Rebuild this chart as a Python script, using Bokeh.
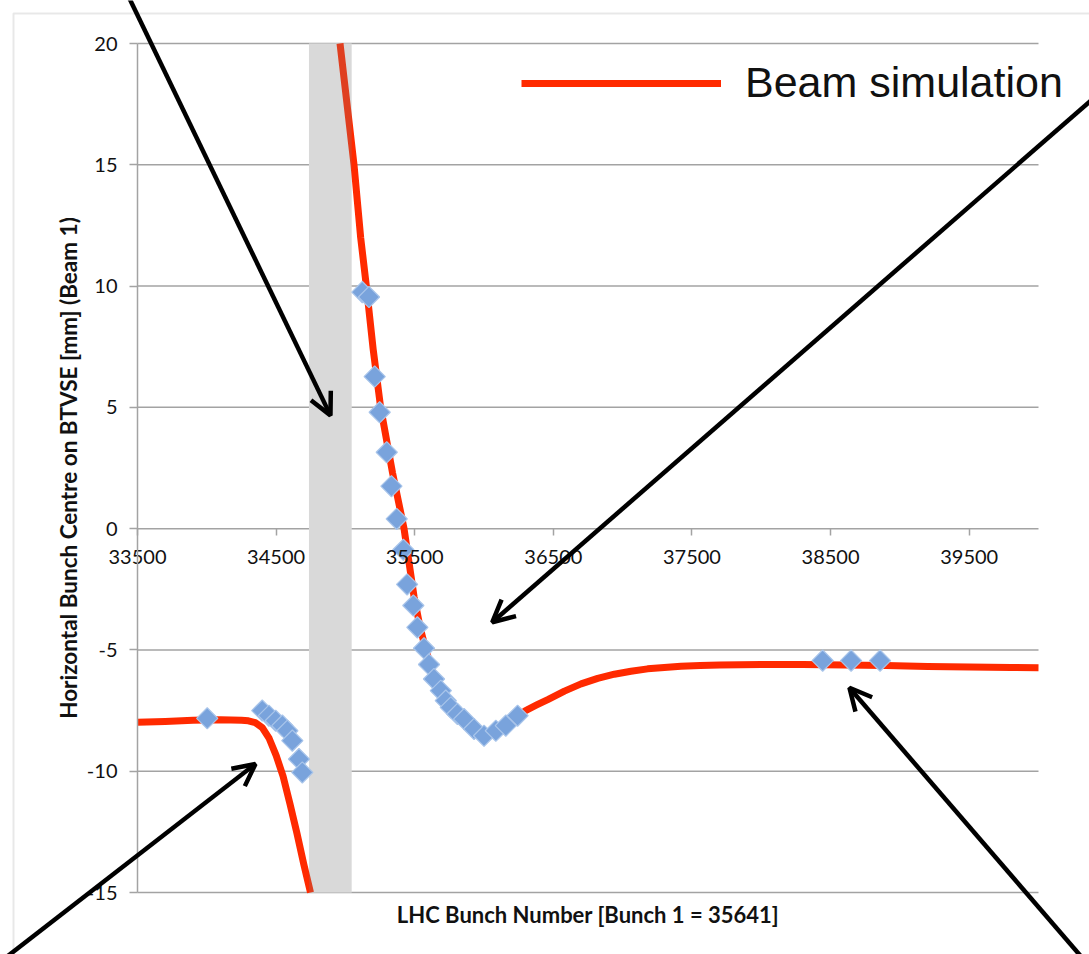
import numpy as np
from bokeh.plotting import figure
from bokeh.models import (Range1d, FixedTicker, LinearAxis, Arrow, OpenHead,
                          BoxAnnotation, Legend, LegendItem)
from bokeh.embed import file_html
from bokeh.resources import INLINE

# ---- data ----
# Beam simulation, branch before the abort gap
sim_left_x = [33500, 33700, 33900, 34100, 34250, 34300, 34350, 34400, 34450, 34500,
              34550, 34600, 34650, 34700, 34748]
sim_left_y = [-7.98, -7.95, -7.9, -7.88, -7.9, -7.92, -8.0, -8.2, -8.65, -9.35,
              -10.2, -11.35, -12.55, -13.85, -15.0]
# Beam simulation, branch after the abort gap
sim_right_x = [34961, 35062, 35110, 35151, 35200, 35254, 35340, 35423, 35495,
               35540, 35580, 35640, 35700, 35780, 35860, 35940, 36010, 36090, 36170,
               36250, 36300, 36380, 36460, 36580, 36700, 36820, 36940, 37060, 37180,
               37300, 37420, 37560, 37700, 38000, 38300, 38600, 38900, 39200, 39500,
               39800, 40000]
sim_right_y = [20.0, 15.0, 12.0, 10.0, 7.4, 5.0, 2.3, 0.0, -2.8,
               -4.1, -5.0, -6.1, -6.9, -7.55, -8.0, -8.35, -8.5, -8.4, -8.1,
               -7.7, -7.5, -7.27, -7.05, -6.7, -6.4, -6.17, -6.0, -5.88, -5.78,
               -5.72, -5.67, -5.64, -5.62, -5.6, -5.6, -5.62, -5.64, -5.68, -5.7,
               -5.72, -5.73]
# Measured bunch positions
meas_x = [34003, 34400, 34448, 34497, 34545, 34581, 34617, 34665, 34689,
          35122, 35170, 35211, 35247, 35298, 35332, 35370, 35418, 35445, 35490,
          35519, 35567, 35603, 35639, 35688, 35724, 35760, 35808, 35856, 35928,
          36000, 36085, 36157, 36242, 38443, 38648, 38857]
meas_y = [-7.82, -7.5, -7.71, -7.92, -8.12, -8.33, -8.74, -9.5, -10.05,
          9.75, 9.55, 6.27, 4.80, 3.15, 1.75, 0.40, -0.87, -2.3, -3.17,
          -4.07, -4.93, -5.6, -6.20, -6.68, -7.09, -7.37, -7.64, -7.85, -8.26,
          -8.54, -8.33, -8.12, -7.71, -5.44, -5.44, -5.44]
# Abort gap band
gap_left = [34737]
gap_right = [35045]
x_ticks = [33500, 34500, 35500, 36500, 37500, 38500, 39500]
y_ticks = [-15, -10, -5, 0, 5, 10, 15, 20]
X_MIN, X_MAX = 33500, 40000
Y_MIN, Y_MAX = -15, 20
# Annotation arrows (start x, start y, end x, end y) in data units
arrow_x_start = [33413, 40447, 32548, 40303]
arrow_y_start = [22.2, 17.99, -17.69, -17.61]
arrow_x_end = [34892, 36059, 34351, 38636]
arrow_y_end = [4.67, -3.86, -9.70, -6.56]

# ---- layout: the frame spans the whole canvas so annotations can leave the plot area ----
W, H = 1089, 954
PL, PR, PT, PB = 137, 51, 43, 62          # plot-area margins in pixels
ux = (X_MAX - X_MIN) / (W - PL - PR)
uy = (Y_MAX - Y_MIN) / (H - PT - PB)
x_range = Range1d(X_MIN - PL * ux, X_MAX + PR * ux)
y_range = Range1d(Y_MIN - PB * uy, Y_MAX + PT * uy)

FONT = "Lato"
GRID = "#a3a3a3"
TXT = "#111111"

p = figure(width=W, height=H, x_range=x_range, y_range=y_range,
           output_backend="svg", toolbar_location=None, x_axis_type=None, y_axis_type=None,
           min_border=0, outline_line_color=None,
           background_fill_color="white", border_fill_color="white")

# chart-area border (starts 13 px inside the top-left corner)
p.add_layout(BoxAnnotation(left=X_MIN - (PL - 13) * ux, right=X_MAX + 400 * ux,
                           top=Y_MAX + (PT - 13) * uy, bottom=Y_MIN - 400 * uy,
                           fill_color=None, fill_alpha=0, line_color="#b4b4b4", line_width=2,
                           level="underlay"))

# horizontal grid lines across the plot area
p.segment(x0=[X_MIN] * len(y_ticks), x1=[X_MAX] * len(y_ticks), y0=y_ticks, y1=y_ticks,
          line_color=GRID, line_width=1.5)

yaxis = LinearAxis(ticker=FixedTicker(ticks=y_ticks), fixed_location=X_MIN, bounds=(Y_MIN, Y_MAX),
                   axis_label="Horizontal Bunch Centre on BTVSE [mm] (Beam 1)",
                   major_label_overrides={t: str(t) for t in y_ticks},
                   axis_line_color=GRID, axis_line_width=1.5,
                   major_tick_line_color=GRID, major_tick_line_width=1.5,
                   major_tick_in=0, major_tick_out=8, minor_tick_line_color=None,
                   major_label_standoff=12, axis_label_standoff=2,
                   major_label_text_font=FONT, major_label_text_font_size="20px",
                   major_label_text_color=TXT,
                   axis_label_text_font=FONT, axis_label_text_font_size="22.5px",
                   axis_label_text_font_style="bold", axis_label_text_color=TXT)
p.add_layout(yaxis, "left")

xaxis = LinearAxis(ticker=FixedTicker(ticks=x_ticks), fixed_location=0, bounds=(X_MIN, X_MAX),
                   axis_line_color=None,
                   major_tick_line_color=GRID, major_tick_line_width=1.5,
                   major_tick_in=0, major_tick_out=7, minor_tick_line_color=None,
                   major_label_standoff=14,
                   major_label_text_font=FONT, major_label_text_font_size="20px",
                   major_label_text_color=TXT)
p.add_layout(xaxis, "below")

xtitle = LinearAxis(ticker=FixedTicker(ticks=[]), fixed_location=Y_MIN, bounds=(X_MIN, X_MAX),
                    axis_label="LHC Bunch Number [Bunch 1 = 35641]",
                    axis_line_color=None, major_tick_line_color=None, minor_tick_line_color=None,
                    major_tick_in=0, major_tick_out=0, minor_tick_in=0, minor_tick_out=0,
                    major_label_standoff=0, axis_label_standoff=8,
                    axis_label_text_font=FONT, axis_label_text_font_size="22px",
                    axis_label_text_font_style="bold", axis_label_text_color=TXT)
p.add_layout(xtitle, "below")

# abort gap band: opaque base (covers the grid lines) ...
p.quad(left=gap_left, right=gap_right, bottom=[Y_MIN], top=[Y_MAX],
       fill_color="#f7f7f7", line_color=None)

RED = "#ff2a00"
r1 = p.line(sim_left_x, sim_left_y, line_color=RED, line_width=7, line_join="round")
r2 = p.line(sim_right_x, sim_right_y, line_color=RED, line_width=7, line_join="round")

# ... and a translucent veil that shades the simulation inside the gap
p.quad(left=gap_left, right=gap_right, bottom=[Y_MIN], top=[Y_MAX],
       fill_color="#808080", fill_alpha=0.25, line_color=None)

p.scatter(meas_x, meas_y, marker="square", angle=np.pi / 4, size=15,
          fill_color="#79a3dc", line_color="#a9c5ea", line_width=1.2)

legend = Legend(items=[LegendItem(label="Beam simulation", renderers=[r2])],
                location=(521, 847), glyph_width=200, glyph_height=40,
                label_standoff=24, label_text_font="Liberation Sans",
                label_text_font_size="43px", label_text_color=TXT,
                border_line_color=None, background_fill_alpha=0, padding=0, margin=0)
p.add_layout(legend, "center")

for xs, ys, xe, ye in zip(arrow_x_start, arrow_y_start, arrow_x_end, arrow_y_end):
    p.add_layout(Arrow(end=OpenHead(size=22, line_width=4.5, line_color="black"),
                       x_start=xs, y_start=ys, x_end=xe, y_end=ye,
                       line_width=4.5, line_color="black"))

open("out.html", "w").write(file_html(p, INLINE))
